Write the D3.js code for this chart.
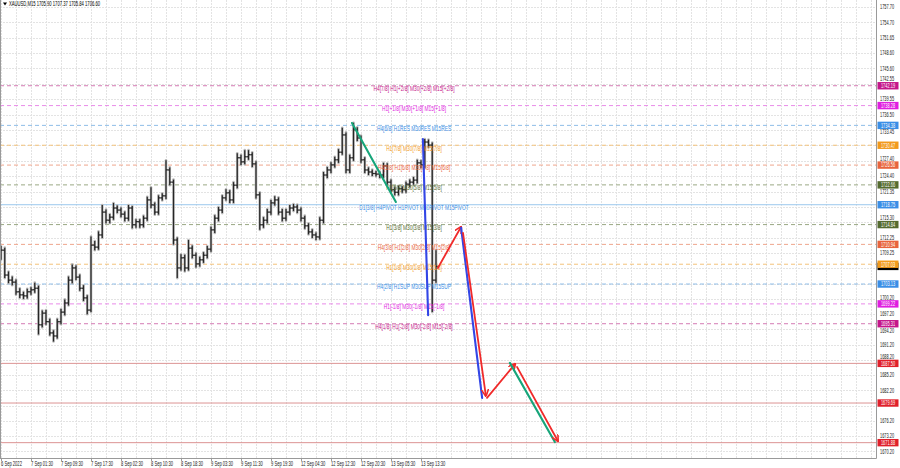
<!DOCTYPE html>
<html><head><meta charset="utf-8">
<script src="https://cdn.jsdelivr.net/npm/d3@7"></script>
<style>body{margin:0;background:#fff;} svg{display:block;} text{font-family:"Liberation Sans",Arial,sans-serif;}</style>
</head><body><svg id="c" width="900" height="468"></svg>
<script>
// ---- data (H1-resolution bars) ----
const opens=[1708.6,1709.8,1704.9,1703.9,1703.5,1701.6,1701.0,1700.8,1701.6,1702.0,1702.3,1695.1,1697.4,1695.7,1693.5,1692.9,1695.7,1697.6,1699.4,1703.9,1706.3,1704.5,1702.3,1700.4,1698.0,1710.8,1710.4,1712.8,1717.3,1715.7,1716.3,1718.1,1717.7,1716.9,1716.1,1718.1,1714.8,1715.4,1714.8,1716.1,1719.7,1718.7,1717.3,1720.1,1720.5,1725.6,1723.2,1711.8,1706.3,1708.3,1706.3,1710.2,1708.8,1707.1,1707.9,1708.8,1710.0,1713.8,1716.1,1717.7,1720.1,1721.1,1719.7,1722.6,1728.0,1727.2,1728.2,1728.6,1726.8,1720.7,1714.8,1715.7,1717.3,1719.1,1719.7,1717.3,1716.1,1717.3,1718.1,1718.3,1717.7,1716.1,1714.6,1713.4,1712.8,1712.4,1715.7,1724.6,1725.6,1726.6,1727.6,1729.1,1732.5,1725.6,1728.0,1733.5,1731.9,1727.6,1725.6,1725.2,1724.9,1724.8,1724.6,1726.4,1723.2,1721.7,1721.2,1721.9,1721.7,1722.8,1723.2,1723.6,1727.0,1726.6,1731.1,1730.5,1703.9];
const highs=[1710.6,1710.3,1705.6,1704.6,1704.0,1702.3,1701.6,1702.2,1702.5,1703.4,1702.8,1697.9,1698.0,1696.3,1694.0,1696.3,1698.2,1700.1,1704.6,1707.0,1706.8,1705.0,1702.9,1700.9,1712.5,1711.6,1713.5,1718.7,1717.8,1716.9,1719.1,1718.6,1718.2,1717.4,1718.7,1718.5,1715.9,1715.9,1716.6,1720.3,1722.2,1719.2,1720.6,1721.0,1727.5,1726.1,1723.7,1712.3,1709.0,1708.9,1711.8,1710.7,1709.3,1708.5,1709.4,1710.6,1714.4,1716.7,1718.3,1720.6,1721.8,1721.6,1723.2,1728.9,1728.6,1729.5,1729.5,1729.1,1727.3,1721.2,1716.3,1717.9,1719.7,1720.4,1720.2,1717.9,1717.9,1718.7,1718.9,1718.8,1718.2,1716.6,1715.1,1713.9,1713.3,1716.3,1725.2,1726.2,1727.1,1728.2,1729.7,1733.9,1733.0,1728.6,1734.9,1734.0,1732.4,1728.1,1726.1,1725.7,1725.4,1725.3,1727.0,1726.9,1723.7,1722.2,1722.5,1722.4,1723.3,1723.7,1724.2,1727.6,1727.5,1731.7,1731.6,1731.0,1709.8];
const lows=[1707.9,1704.3,1703.3,1702.9,1701.0,1700.4,1700.2,1700.3,1701.0,1701.4,1693.2,1694.6,1695.1,1693.0,1691.8,1692.4,1695.2,1697.0,1698.9,1703.3,1703.9,1701.8,1699.8,1697.2,1697.6,1709.8,1709.9,1712.2,1715.1,1715.1,1715.8,1717.1,1716.3,1715.5,1715.6,1714.1,1714.2,1714.2,1714.3,1715.6,1718.1,1716.8,1716.8,1719.6,1719.9,1722.6,1710.9,1704.3,1705.8,1705.6,1705.8,1708.2,1706.4,1706.6,1707.3,1708.2,1709.5,1713.2,1715.5,1717.1,1719.6,1719.1,1719.1,1722.0,1726.6,1726.7,1727.6,1726.2,1720.0,1713.8,1714.2,1715.1,1716.8,1718.6,1716.8,1715.5,1715.6,1716.8,1717.5,1717.1,1715.5,1714.0,1712.9,1712.2,1711.8,1711.9,1715.1,1724.0,1725.0,1726.1,1727.0,1728.6,1725.0,1725.0,1727.4,1731.3,1727.0,1725.0,1724.6,1724.4,1724.3,1724.0,1724.0,1722.7,1721.1,1720.6,1720.6,1721.1,1721.1,1722.2,1722.7,1723.0,1726.0,1726.0,1730.0,1697.6,1703.4];
const closes=[1709.8,1704.9,1703.9,1703.5,1701.6,1701.0,1700.8,1701.6,1702.0,1702.3,1695.1,1697.4,1695.7,1693.5,1692.9,1695.7,1697.6,1699.4,1703.9,1706.3,1704.5,1702.3,1700.4,1698.0,1710.8,1710.4,1712.8,1717.3,1715.7,1716.3,1718.1,1717.7,1716.9,1716.1,1718.1,1714.8,1715.4,1714.8,1716.1,1719.7,1718.7,1717.3,1720.1,1720.5,1725.6,1723.2,1711.8,1706.3,1708.3,1706.3,1710.2,1708.8,1707.1,1707.9,1708.8,1710.0,1713.8,1716.1,1717.7,1720.1,1721.1,1719.7,1722.6,1728.0,1727.2,1728.2,1728.6,1726.8,1720.7,1714.8,1715.7,1717.3,1719.1,1719.7,1717.3,1716.1,1717.3,1718.1,1718.3,1717.7,1716.1,1714.6,1713.4,1712.8,1712.4,1715.7,1724.6,1725.6,1726.6,1727.6,1729.1,1732.5,1725.6,1728.0,1733.5,1731.9,1727.6,1725.6,1725.2,1724.9,1724.8,1724.6,1726.4,1723.2,1721.7,1721.2,1721.9,1721.7,1722.8,1723.2,1723.6,1727.0,1726.6,1731.1,1730.5,1703.9,1706.6];

const timeLabels=["6 Sep 2022","7 Sep 01:30","7 Sep 09:30","7 Sep 17:30","8 Sep 02:30","8 Sep 10:30","8 Sep 18:30","9 Sep 03:30","9 Sep 11:30","9 Sep 19:30","12 Sep 04:30","12 Sep 12:30","12 Sep 20:30","13 Sep 05:30","13 Sep 13:30"];
const timeLabelBars=[0,8,16,24,32,40,48,56,64,72,80,88,96,104,112];
const priceTicks=[1757.70,1754.70,1751.65,1748.60,1745.60,1742.55,1739.55,1736.50,1733.45,1730.45,1727.40,1724.40,1721.35,1718.30,1715.30,1712.25,1709.25,1706.20,1703.20,1700.20,1697.20,1694.20,1691.20,1688.20,1685.20,1682.20,1679.20,1676.20,1673.20,1670.20];

const levelPrices=[1742.19,1738.28,1734.38,1730.47,1726.56,1722.66,1718.75,1714.84,1710.94,1707.03,1703.13,1699.22,1695.31];
const levelNames=["H4[7/8] H1[+2/8] M30[+2/8] M15[+2/8]","H1[+1/8] M30[+1/8] M15[+1/8]","H4[6/8] H1RES M30RES M15RES","H1[7/8] M30[7/8] M15[7/8]","H4[5/8] H1[6/8] M30[6/8] M15[6/8]","H1[5/8] M30[5/8] M15[5/8]","D1[3/8] H4PIVOT H1PIVOT M30PIVOT M15PIVOT","H1[3/8] M30[3/8] M15[3/8]","H4[3/8] H1[2/8] M30[2/8] M15[2/8]","H1[1/8] M30[1/8] M15[1/8]","H4[2/8] H1SUP M30SUP M15SUP","H1[-1/8] M30[-1/8] M15[-1/8]","H4[1/8] H1[-2/8] M30[-2/8] M15[-2/8]"];
const levelKinds=["violet","magenta","blue","orange","coral","olive","pivot","olive","coral","orange","blue","magenta","violet"];
const targetPrices=[1687.50,1679.69,1671.88];
const lastPrice=1706.60;
const titleText="XAUUSD,M15  1705.90 1707.37 1705.84 1706.60";

// drawn trend / projection segments: [startBar, startPrice] -> [endBar, endPrice]
const segStart=[[93.6,1734.85],[112.5,1731.7],[116.5,1706.3],[122.7,1714.2],[123.2,1713.2],[129.6,1680.7],[135.7,1687.6],[137.6,1686.8]];
const segEnd=[[105.3,1719.29],[113.9,1697.0],[122.7,1714.4],[128.3,1680.7],[129.3,1681.1],[137.1,1687.4],[147.7,1672.0],[148.5,1672.2]];
const segKinds=["green","blue","red","blue","red","red","green","red"];

// ---- styles ----
const kindColor={violet:"#c4168a",magenta:"#e01ee0",blue:"#3a8ee6",orange:"#f29a1c",coral:"#e8643c",olive:"#556b2f",pivot:"#3a8ee6"};
const lineColor={violet:"#d47ab4",magenta:"#e98be9",blue:"#8fbde8",orange:"#f3c27a",coral:"#eea58c",olive:"#9aa884",pivot:"#9cc8ee"};
const segColor={green:"#17a57a",blue:"#3346e6",red:"#f02a2a"};

const W=900,H=468, plotR=876.5, plotB=458.5;
const svg=d3.select("#c");
const x=d3.scaleLinear().domain([0,233.33]).range([1,876]);
const y=d3.scaleLinear().domain([1670.2,1757.7]).range([451.2,7]);
const SX=0.63;

function txt(g,tx,ty,s,opt){
  return g.append("text").attr("transform",`translate(${tx},${ty}) scale(${opt.sx||SX},1)`)
    .attr("font-size",opt.size||6.5).attr("fill",opt.fill||"#000").attr("text-anchor",opt.anchor||"start").text(s);
}

svg.append("rect").attr("width",W).attr("height",H).attr("fill","#fff");

// grid
const grid=svg.append("g");
const vt=d3.range(0,234,4);
grid.selectAll("line.v").data(vt).join("line").attr("x1",d=>x(d)+0.5).attr("x2",d=>x(d)+0.5).attr("y1",0).attr("y2",plotB)
  .attr("stroke","#e3e3e3").attr("stroke-width",1).attr("stroke-dasharray","2,1");
grid.selectAll("line.h").data(priceTicks).join("line").attr("x1",0).attr("x2",plotR).attr("y1",d=>Math.round(y(d))+0.5).attr("y2",d=>Math.round(y(d))+0.5)
  .attr("stroke","#e3e3e3").attr("stroke-width",1).attr("stroke-dasharray","2,1");

// level lines
const lv=svg.append("g");
levelPrices.forEach((p,i)=>{
  const k=levelKinds[i];
  lv.append("line").attr("x1",0).attr("x2",plotR).attr("y1",y(p)).attr("y2",y(p))
    .attr("stroke",lineColor[k]).attr("stroke-width",1).attr("stroke-dasharray",k==="pivot"?null:"4,3");
});
targetPrices.forEach(p=>{
  lv.append("line").attr("x1",0).attr("x2",plotR).attr("y1",y(p)).attr("y2",y(p)).attr("stroke","#dc9494").attr("stroke-width",1);
});

// bars (soft halo then dark bar)
const halo=svg.append("g").attr("stroke","#b8b8b8").attr("stroke-width",2.6).attr("stroke-linecap","round");
const bars=svg.append("g").attr("stroke","#262626").attr("stroke-width",1.25);
closes.forEach((c,i)=>{
  const cx=x(i);
  halo.append("line").attr("x1",cx).attr("x2",cx).attr("y1",y(highs[i])).attr("y2",y(lows[i]));
});
closes.forEach((c,i)=>{
  const cx=x(i);
  bars.append("line").attr("x1",cx).attr("x2",cx).attr("y1",y(highs[i])).attr("y2",y(lows[i]));
  bars.append("line").attr("x1",cx-1.9).attr("x2",cx).attr("y1",y(opens[i])).attr("y2",y(opens[i]));
  bars.append("line").attr("x1",cx).attr("x2",cx+1.9).attr("y1",y(c)).attr("y2",y(c));
});

// level texts
const lt=svg.append("g");
levelPrices.forEach((p,i)=>{
  txt(lt,414,y(p)+5.4,levelNames[i],{size:7,sx:0.69,anchor:"middle",fill:kindColor[levelKinds[i]]});
});

// arrow marker
const defs=svg.append("defs");
defs.append("marker").attr("id","arr").attr("viewBox","0 0 10 10").attr("refX",9).attr("refY",5)
  .attr("markerWidth",4).attr("markerHeight",4).attr("orient","auto-start-reverse")
  .append("path").attr("d","M0,0 L10,5 L0,10").attr("fill","none").attr("stroke",segColor.red).attr("stroke-width",2.2);

// segments
const sg=svg.append("g");
segStart.forEach((s,i)=>{
  const e=segEnd[i], k=segKinds[i];
  const l=sg.append("line").attr("x1",x(s[0])).attr("y1",y(s[1])).attr("x2",x(e[0])).attr("y2",y(e[1]))
    .attr("stroke",segColor[k]).attr("stroke-width",k==="red"?1.8:2.1).attr("stroke-linecap","round");
  if(k==="red") l.attr("marker-end","url(#arr)");
});

// frame
svg.append("line").attr("x1",plotR).attr("x2",plotR).attr("y1",0).attr("y2",plotB).attr("stroke","#9a9a9a");
svg.append("line").attr("x1",0).attr("x2",plotR).attr("y1",plotB).attr("y2",plotB).attr("stroke","#9a9a9a");
svg.append("line").attr("x1",0.5).attr("x2",0.5).attr("y1",0).attr("y2",plotB).attr("stroke","#9a9a9a");

// price axis labels: ones hidden behind a price tag in the reference are skipped,
// partly covered ones are nudged just clear of the tag
const boxPrices=levelPrices.concat(targetPrices,[lastPrice]);
const ax=svg.append("g");
const GAP=6.6;
priceTicks.forEach(p=>{
  const y0=y(p);
  const hidden=boxPrices.some(b=>{const d=y0-y(b); return d>=-1 && d<4;});
  if(hidden) return;
  let ly=y0;
  boxPrices.forEach(b=>{
    const by=y(b), d=y0-by;
    if(Math.abs(d)<GAP) ly = d<0 ? by-GAP : by+GAP;
  });
  txt(ax,880,ly+2.3,p.toFixed(2),{size:6.5,sx:0.6,fill:"#222"});
});

// time axis
const tx=svg.append("g");
timeLabels.forEach((s,i)=>{
  const px=x(timeLabelBars[i]);
  tx.append("line").attr("x1",px+0.5).attr("x2",px+0.5).attr("y1",plotB).attr("y2",plotB+2.5).attr("stroke","#9a9a9a");
  txt(tx,Math.max(0,px),465.5,s,{size:6.5,sx:0.63,fill:"#222"});
});

// price boxes
const bx=svg.append("g");
function box(p,fill,label){
  const cy=y(p);
  bx.append("rect").attr("x",877.5).attr("y",cy-3.7).attr("width",21).attr("height",7.4).attr("fill",fill);
  if(label) txt(bx,888,cy+2.3,p.toFixed(2),{size:6.5,sx:0.6,anchor:"middle",fill:"#fff"});
}
box(lastPrice,"#000",false); // mostly hidden under the 1707.03 tag
levelPrices.forEach((p,i)=>box(p,kindColor[levelKinds[i]],true));
targetPrices.forEach(p=>box(p,"#e0202a",true));

// title
svg.append("path").attr("d","M3,2.5 L7,2.5 L5,5.5 Z").attr("fill","#000");
txt(svg,9,6,titleText,{size:6.5,sx:0.64,fill:"#000"});
</script></body></html>
